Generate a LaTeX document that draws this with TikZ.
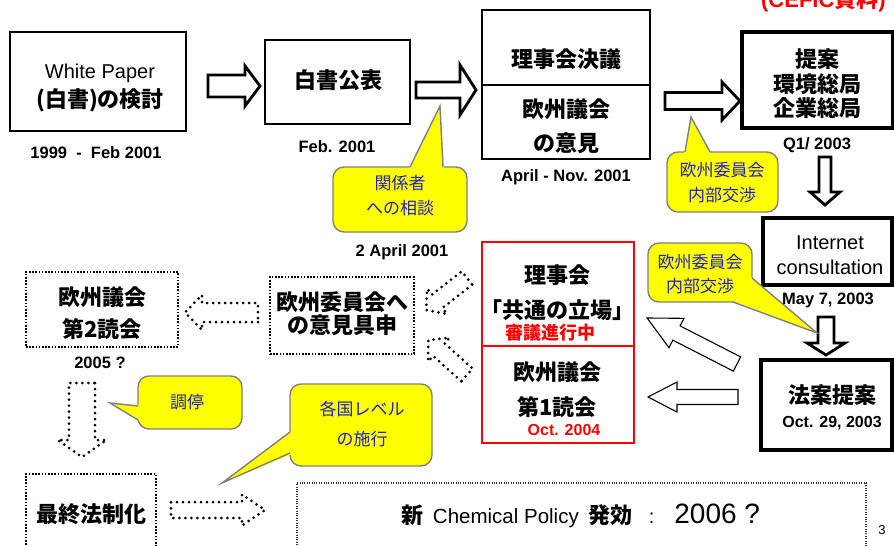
\documentclass[tikz,border=0pt]{standalone}
\usepackage{fontspec}
\setmainfont{Liberation Sans}
\newfontfamily\cjk{Noto Sans CJK JP}
\newcommand\fsz[1]{\fontsize{#1}{#1}\selectfont}
% style, x, y, angle, length, head length, shaft half width, head half width
\newcommand\blockarr[8]{%
  \path[#1,shift={(#2,#3)},rotate=#4] (0,-#7) -- ({#5-#6},-#7) -- ({#5-#6},-#8) -- (#5,0) -- ({#5-#6},#8) -- ({#5-#6},#7) -- (0,#7) -- cycle;}
\definecolor{cotext}{RGB}{35,35,190}
\definecolor{cofill}{RGB}{255,255,0}
\definecolor{coedge}{RGB}{128,128,128}
\definecolor{redc}{RGB}{255,0,0}
\tikzset{
  box/.style={draw=black, line width=1.8pt},
  tbox/.style={draw=black, line width=3.2pt},
  rbox/.style={draw=redc, line width=1.8pt},
  dbox/.style={draw=black, line width=1.6pt, dash pattern=on 1.6pt off 1.6pt},
  fdbox/.style={draw=black!80, line width=1.1pt, dash pattern=on 1.1pt off 1.3pt},
  jp/.style={font=\cjk\bfseries\fsz{22}, inner sep=0pt},
  lb/.style={font=\bfseries\fsz{16.5}, inner sep=0pt},
  co/.style={font=\cjk\fsz{17}, text=cotext, inner sep=0pt},
  cobox/.style={fill=cofill, draw=coedge, line width=1.4pt, rounded corners=11pt},
  coline/.style={draw=coedge, line width=1.4pt},
  harrow/.style={draw=black, line width=2.8pt, fill=white},
  tarrow/.style={draw=black, line width=1.1pt, fill=white},
  darrow/.style={draw=black, line width=3pt, line cap=round, dash pattern=on 0pt off 6pt},
}
\begin{document}
\begin{tikzpicture}[x=1pt,y=-1pt]
\useasboundingbox[fill=white] (0,0) rectangle (894,546);
% ---- boxes
\node[box, minimum width=176pt, minimum height=99pt, inner sep=0pt] (wp) at (98,81.5) {};
\node[box, minimum width=145pt, minimum height=84pt, inner sep=0pt] (pub) at (337.5,82) {};
\node[box, minimum width=168pt, minimum height=149pt, inner sep=0pt] (cnc) at (566,84.5) {};
\draw[box] (482,85) -- (650,85);
\node[tbox, minimum width=151pt, minimum height=96pt, inner sep=0pt] (prop) at (817.5,80) {};
\node[tbox, minimum width=129pt, minimum height=67pt, inner sep=0pt] (inet) at (827.5,251.5) {};
\node[tbox, minimum width=131pt, minimum height=90pt, inner sep=0pt] (bill) at (826.5,405) {};
\node[rbox, minimum width=152pt, minimum height=201pt, inner sep=0pt] (red) at (558,342.5) {};
\draw[rbox] (482,346) -- (634,346);
\node[dbox, minimum width=144pt, minimum height=77pt, inner sep=0pt] (opn) at (342,315.5) {};
\node[dbox, minimum width=152pt, minimum height=75pt, inner sep=0pt] (ep2) at (102,309.5) {};
\node[dbox, minimum width=130pt, minimum height=90pt, inner sep=0pt] (fin) at (91,519) {};
\node[fdbox, minimum width=569pt, minimum height=80pt, inner sep=0pt] (pol) at (581.5,523) {};
% ---- block arrows
\blockarr{harrow}{208}{86}{0}{52}{15}{11}{20}
\blockarr{harrow}{416}{90}{0}{60}{16}{8}{25}
\blockarr{harrow}{665}{101}{0}{75}{18}{8.5}{19}
\blockarr{harrow}{825}{157}{-90}{48}{13}{6}{15}
\blockarr{harrow}{826}{317}{-90}{38}{12}{8}{19}
\blockarr{tarrow}{737}{364}{152.9}{101}{33}{8}{16.5}
\blockarr{tarrow}{738}{397}{180}{90}{29}{7.5}{15}
\blockarr{darrow}{467}{278}{-142}{52}{14}{8.5}{16}
\blockarr{darrow}{467}{375}{138}{52}{14}{8.5}{16}
\blockarr{darrow}{258}{312.5}{180}{73}{17}{9.5}{17.5}
\blockarr{darrow}{82}{383}{-90}{74}{17}{13}{24.5}
\blockarr{darrow}{171}{510}{0}{94}{23}{8}{15.5}
% ---- callouts
\path[cobox] (333,167) rectangle (467,232);
\fill[cofill] (409,169) -- (440,106) -- (444,169) -- cycle;
\draw[coline] (410,167) -- (440,106) -- (443,167);
\path[cobox] (667,152) rectangle (778,212);
\fill[cofill] (684,154) -- (691,117) -- (711,154) -- cycle;
\draw[coline] (685,152) -- (691,117) -- (710,152);
\path[cobox] (648,243) rectangle (752,302);
\fill[cofill] (750,276) -- (817,333) -- (731,300) -- cycle;
\draw[coline] (752,278) -- (817,333) -- (733,302);
\path[cobox] (138,376) rectangle (242,429);
\fill[cofill] (140,405) -- (110,403) -- (140,421) -- cycle;
\draw[coline] (138,406) -- (110,403) -- (138,420);
\path[cobox] (290,384) rectangle (432,466);
\fill[cofill] (292,431) -- (222,483) -- (292,454) -- cycle;
\draw[coline] (290,432) -- (222,483) -- (290,453);
% ---- texts
\node[font=\fsz{20}, inner sep=0pt] (t1) at (100,73) {White Paper};
\node[jp] (t2) at (100,100) {(白書)の検討};
\node[lb] (t3) at (96,153) {1999~~-~~Feb 2001};
\node[jp] (t4) at (338,80) {白書公表};
\node[lb] (t5) at (337,147) {Feb. 2001};
\node[jp] (t6) at (566,59) {理事会決議};
\node[jp] (t7) at (566,109) {欧州議会};
\node[jp] (t8) at (566,143) {の意見};
\node[lb] (t9) at (566,177) {April~-~Nov. 2001};
\node[jp] (t10) at (817,59) {提案};
\node[jp] (t11) at (817,84) {環境総局};
\node[jp] (t12) at (817,108) {企業総局};
\node[lb] (t13) at (817,145) {Q1/ 2003};
\node[font=\fsz{20}, inner sep=0pt] (t14) at (830,243) {Internet};
\node[font=\fsz{20}, inner sep=0pt] (t15) at (830,267) {consultation};
\node[lb] (t16) at (828,300) {May 7, 2003};
\node[jp] (t17) at (832,395) {法案提案};
\node[lb, font=\bfseries\fsz{16}] (t18) at (832,423) {Oct. 29, 2003};
\node[jp] (t19) at (557,275) {理事会};
\node[jp] (t20) at (557,310) {「共通の立場」};
\node[jp, font=\cjk\bfseries\fsz{18}, text=redc] (t21) at (550,333) {審議進行中};
\node[jp] (t22) at (557,372) {欧州議会};
\node[jp] (t23) at (557,407) {第1読会};
\node[lb, font=\bfseries\fsz{16}, text=redc] (t24) at (564,430) {Oct. 2004};
\node[jp] (t25) at (342,302) {欧州委員会へ};
\node[jp] (t26) at (342,325) {の意見具申};
\node[jp] (t27) at (102,297) {欧州議会};
\node[jp] (t28) at (102,329) {第2読会};
\node[lb] (t29) at (100,363) {2005 ?};
\node[jp] (t30) at (91,514) {最終法制化};
\node[lb] (t31) at (402,252) {2 April 2001};
\node[co] (t32) at (400,183) {関係者};
\node[co] (t33) at (400,208) {への相談};
\node[co] (t34) at (722,170) {欧州委員会};
\node[co] (t35) at (722,195) {内部交渉};
\node[co] (t36) at (700,262) {欧州委員会};
\node[co] (t37) at (700,286) {内部交渉};
\node[co] (t38) at (187,402) {調停};
\node[co] (t39) at (362,409) {各国レベル};
\node[co] (t40) at (362,439) {の施行};
\node[inner sep=0pt] (t41) at (581,516) {{\cjk\bfseries\fsz{22}新}\hspace{9pt}{\fsz{20.5}Chemical Policy}\hspace{10pt}{\cjk\bfseries\fsz{22}発効}\hspace{16pt}{\fsz{20}:}\hspace{20pt}{\fsz{28}2006 ?}};
\node[font=\fsz{13}, inner sep=0pt] (t42) at (882,530) {3};
\node[anchor=base east, text=redc, font=\bfseries\fsz{22}, inner sep=0pt] (t43) at (886,7) {(CEFIC{\cjk\bfseries 資料})};
\end{tikzpicture}
\end{document}
